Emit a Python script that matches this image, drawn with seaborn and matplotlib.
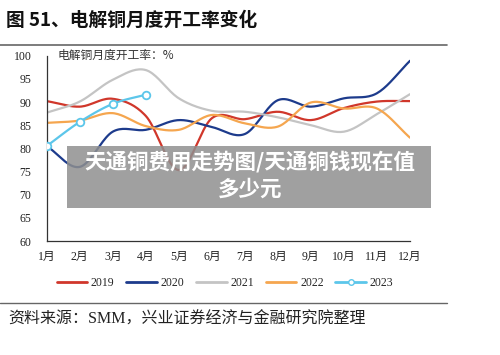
import numpy as np
import pandas as pd
import matplotlib
matplotlib.use("Agg")
import matplotlib.pyplot as plt
import seaborn as sns

months = list(range(1, 13))
month_labels = ["1月", "2月", "3月", "4月", "5月", "6月", "7月", "8月", "9月", "10月", "11月", "12月"]
y2019 = [90.2, 89.0, 90.7, 87.0, 75.3, 86.5, 86.3, 87.9, 86.1, 88.7, 90.1, 90.2]
y2020 = [80.5, 76.0, 83.6, 84.0, 86.1, 84.6, 83.1, 90.4, 89.0, 90.8, 91.9, 98.9]
y2021 = [87.7, 90.1, 94.8, 96.9, 90.8, 88.1, 87.9, 86.7, 85.0, 83.6, 87.4, 91.7]
y2022 = [85.5, 86.0, 87.6, 84.8, 84.0, 87.2, 85.4, 84.7, 89.9, 88.6, 88.6, 82.3]
y2023 = [80.5, 85.7, 89.6, 91.6]
series_names = ["2019", "2020", "2021", "2022", "2023"]
colors = {"2019": "#d0372b", "2020": "#1d3b8c", "2021": "#c4c4c4", "2022": "#f5a64f", "2023": "#5cc6ea"}

def smooth(x, y, n=20):
    x = np.asarray(x, float); y = np.asarray(y, float)
    if len(x) < 3:
        return x, y
    px = np.concatenate([[2 * x[0] - x[1]], x, [2 * x[-1] - x[-2]]])
    py = np.concatenate([[2 * y[0] - y[1]], y, [2 * y[-1] - y[-2]]])
    xs, ys = [], []
    for i in range(1, len(px) - 2):
        t = np.linspace(0, 1, n, endpoint=False)
        p0, p1, p2, p3 = py[i - 1], py[i], py[i + 1], py[i + 2]
        ys.append(0.5 * (2 * p1 + (-p0 + p2) * t + (2 * p0 - 5 * p1 + 4 * p2 - p3) * t ** 2 + (-p0 + 3 * p1 - 3 * p2 + p3) * t ** 3))
        xs.append(px[i] + (px[i + 1] - px[i]) * t)
    xs.append([x[-1]]); ys.append([y[-1]])
    return np.concatenate(xs), np.concatenate(ys)

sns.set_theme(style="white")
plt.rcParams["font.family"] = ["Liberation Serif", "Noto Sans CJK SC", "DejaVu Sans"]

fig = plt.figure(figsize=(5.0, 3.55), dpi=100)
ax = fig.add_axes([0.0934, 0.3211, 0.7266, 0.522])

data = {"2019": (months, y2019), "2020": (months, y2020), "2021": (months, y2021),
        "2022": (months, y2022), "2023": (months[:4], y2023)}
for name in series_names:
    mx, my = data[name]
    sx, sy = smooth(mx, my)
    df = pd.DataFrame({"x": sx, "y": sy})
    sns.lineplot(data=df, x="x", y="y", ax=ax, color=colors[name], lw=1.6, sort=False, label=None)
sns.scatterplot(x=months[:4], y=y2023, ax=ax, s=30, facecolor="white", edgecolor=colors["2023"], linewidth=1.3, zorder=5)

ax.set_xlim(1, 12)
ax.set_ylim(60, 100)
ax.set_yticks(range(60, 101, 5))
ax.set_xticks(months)
ax.set_xticklabels(month_labels)
ax.set_xlabel(""); ax.set_ylabel("")
for s in ["top", "right"]:
    ax.spines[s].set_visible(False)
for s in ["left", "bottom"]:
    ax.spines[s].set_color("#333333"); ax.spines[s].set_linewidth(0.9)
ax.tick_params(axis="both", direction="in", length=3, width=0.8, color="#333333", labelsize=8.5, labelcolor="#222222")
ax.tick_params(axis="y", pad=11)
ax.tick_params(axis="x", pad=7)
ax.text(0.03, 1.0, "电解铜月度开工率：%", transform=ax.transAxes, fontsize=8.5, color="#333333",
        va="center", ha="left", family=["Noto Sans CJK SC"])

from matplotlib.lines import Line2D
handles = [Line2D([], [], color=colors[n], lw=2) for n in series_names[:4]]
handles.append(Line2D([], [], color=colors["2023"], lw=2, marker="o", markerfacecolor="white", markersize=4))
fig.legend(handles, series_names, loc="center", bbox_to_anchor=(0.45, 0.203), ncol=5, frameon=False,
           fontsize=8.5, handlelength=2.6, columnspacing=1.0, handletextpad=0.3)

# header / footer
fig.text(0.012, 0.943, "图 51、电解铜月度开工率变化", fontsize=13.5, fontweight="bold", color="#111111",
         ha="left", va="center", family=["Noto Sans CJK SC"])
fig.add_artist(Line2D([0, 0.894], [1 - 45 / 355, 1 - 45 / 355], color="#666666", lw=1.2, transform=fig.transFigure))
fig.add_artist(Line2D([0, 0.894], [1 - 303 / 355, 1 - 303 / 355], color="#666666", lw=1.0, transform=fig.transFigure))
fig.text(0.016, 1 - 320 / 355, "资料来源：SMM，兴业证券经济与金融研究院整理", fontsize=11.5, color="#222222",
         ha="left", va="center")

# watermark overlay
from matplotlib.patches import Rectangle
fig.add_artist(Rectangle((67 / 500, 1 - 208 / 355), (431 - 67) / 500, (208 - 146) / 355, transform=fig.transFigure,
                         facecolor="#8f8f8f", alpha=0.85, edgecolor="none", zorder=10))
fig.text(0.5, 1 - 162 / 355, "天通铜费用走势图/天通铜钱现在值", fontsize=15.5, fontweight="bold", color="white",
         ha="center", va="center", zorder=11, family=["Noto Sans CJK SC"])
fig.text(0.5, 1 - 189 / 355, "多少元", fontsize=15.5, fontweight="bold", color="white",
         ha="center", va="center", zorder=11, family=["Noto Sans CJK SC"])

fig.savefig("out.png", dpi=100)
